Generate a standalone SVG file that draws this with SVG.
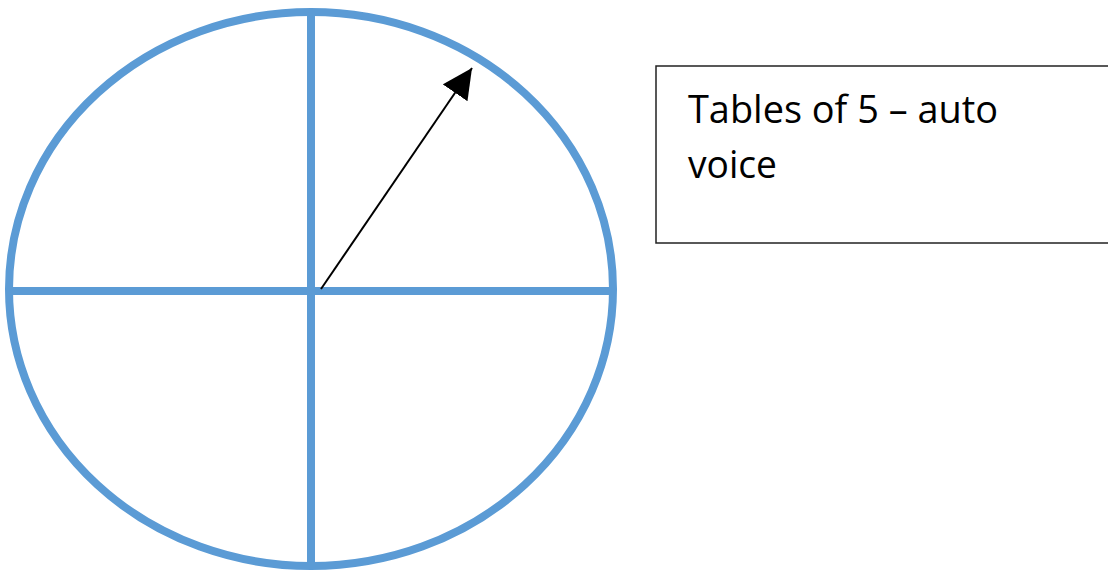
<svg xmlns="http://www.w3.org/2000/svg" width="1108" height="573" viewBox="0 0 1108 573">
<style>
.blue{fill:none;stroke:#5B9BD5;stroke-width:8}
.lbl{font-family:"Open Sans","Liberation Sans",sans-serif;font-size:38px;fill:#000}
</style>
<defs>
<marker id="ah" viewBox="0 0 10 10" refX="10" refY="5" markerWidth="30" markerHeight="30" markerUnits="userSpaceOnUse" orient="auto">
<path d="M0,0 L10,5 L0,10 z" fill="#000"/>
</marker>
</defs>
<rect width="1108" height="573" fill="#fff"/>
<g id="wheel">
<ellipse class="blue" cx="311" cy="289" rx="302" ry="277"/>
<line class="blue" x1="311" y1="12" x2="311" y2="566"/>
<line class="blue" x1="9" y1="291" x2="613" y2="291"/>
</g>
<g id="connectors">
<line x1="321" y1="289" x2="472" y2="68" stroke="#000" stroke-width="2" marker-end="url(#ah)"/>
</g>
<g id="label">
<rect x="656" y="66" width="460" height="177" fill="#fff" stroke="#222" stroke-width="1.5"/>
<text class="lbl" x="688" y="123" textLength="310" lengthAdjust="spacingAndGlyphs">Tables of 5 – auto</text>
<text class="lbl" x="688" y="178" textLength="89" lengthAdjust="spacingAndGlyphs">voice</text>
</g>
</svg>
